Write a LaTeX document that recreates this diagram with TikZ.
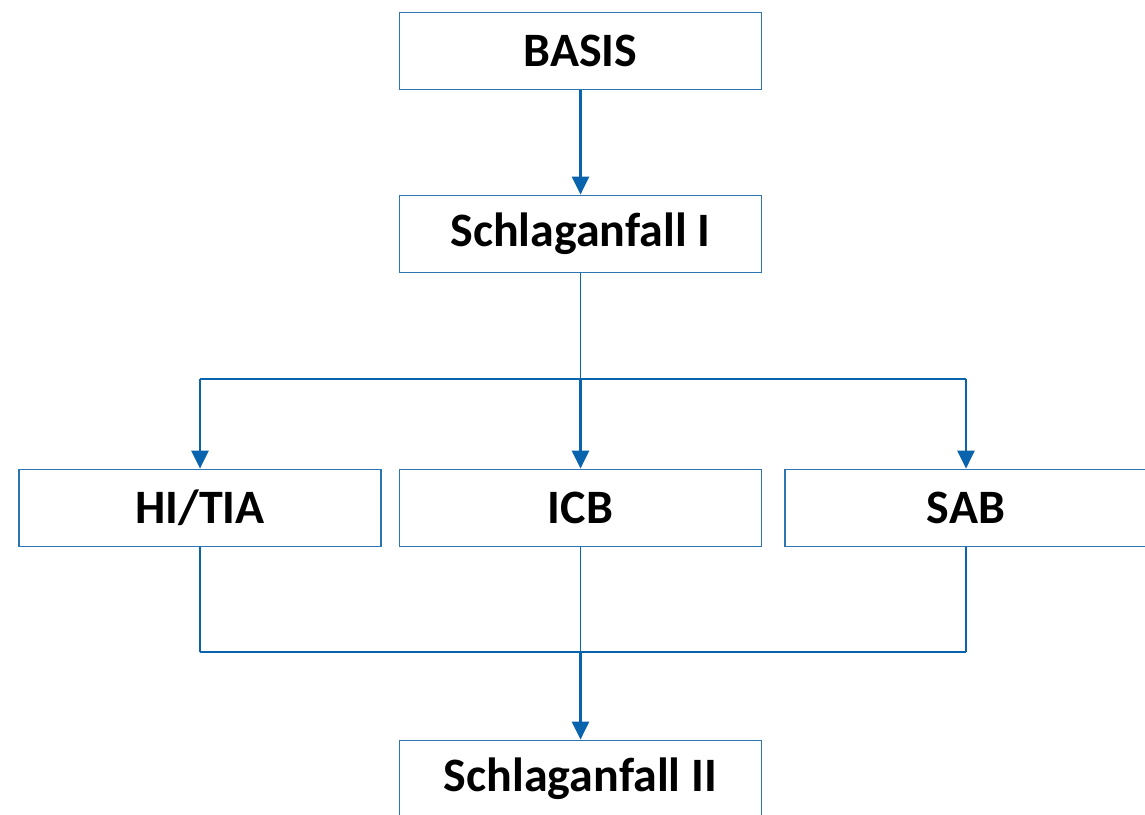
\documentclass[tikz,border=0pt]{standalone}
\usepackage{fontspec}
\setmainfont{Carlito}
\usetikzlibrary{calc,arrows.meta}
\definecolor{boxblue}{HTML}{2E75B6}
\definecolor{arrowblue}{HTML}{0A64AD}
\tikzset{
  stage/.style={draw=boxblue, line width=1pt, minimum width=7.24cm, minimum height=1.54cm, inner sep=0pt, font=\fontsize{27.3}{32}\selectfont\bfseries},
  flow/.style={draw=arrowblue, line width=1.5pt, -{Triangle[length=0.36cm,width=0.34cm]}},
  joinline/.style={draw=arrowblue, line width=0.7pt}
}
\begin{document}
\begin{tikzpicture}[x=0.02cm, y=-0.02cm]
            \clip (0,0) rectangle (1145,814);
            \fill [white] (0,0) rectangle (1145,814);

            \node (basis) at (580.5,51) [stage] {BASIS};
            \node (sa1) at (580.5,234) [stage] {Schlaganfall I};
            \node (hitia) at (200,508) [stage] {HI/TIA};
            \node (icb) at (580.5,508) [stage] {ICB};
            \node (sab) at (966,508) [stage] {SAB};
            \node (sa2) at (580.5,779) [stage] {Schlaganfall II};

            \coordinate (split) at (580.5,379);
            \coordinate (merge) at (580.5,652);

            \draw [flow] (basis) -- (sa1);
            \draw [joinline] (sa1) -- (split);
            \draw [joinline, line width=1pt] (split -| hitia) -- (split -| sab);

            \foreach \n in {hitia, icb, sab}
                {
                    \draw [flow] (split -| \n) -- (\n);
                    \draw [joinline] (\n) -- (merge -| \n);
                }

            \draw [joinline] (merge -| hitia) -- (merge -| sab);
            \draw [flow] (merge) -- (sa2);

        \end{tikzpicture}
\end{document}
